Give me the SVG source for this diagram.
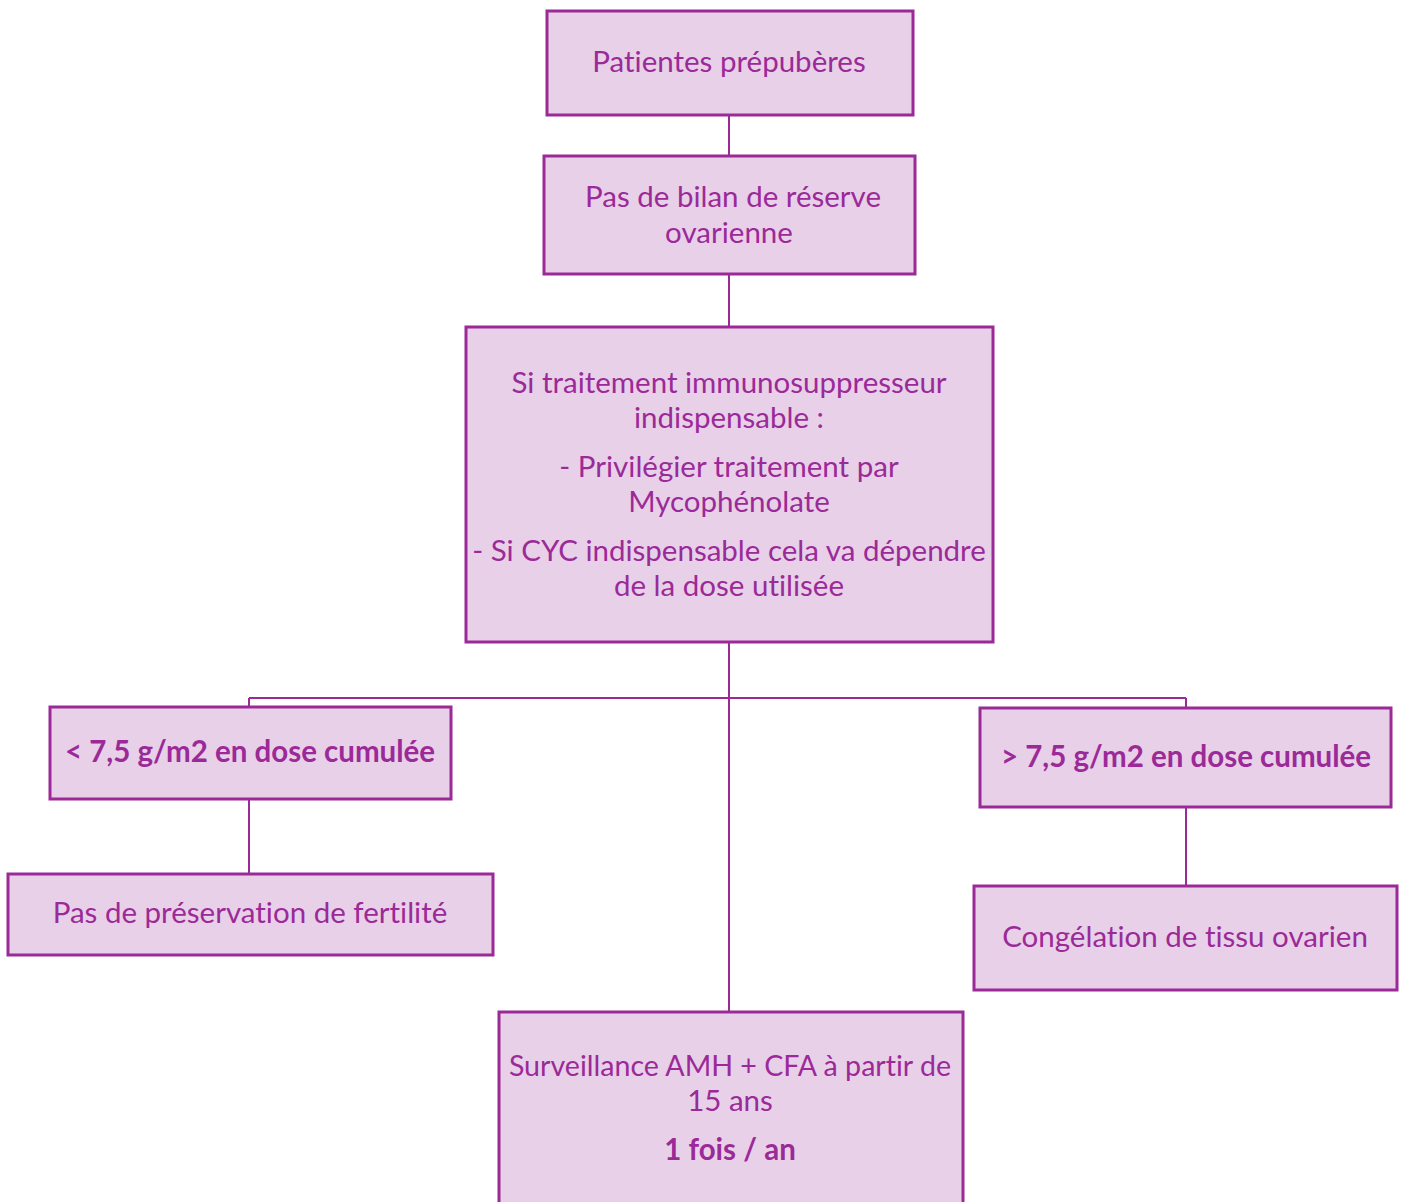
<svg xmlns="http://www.w3.org/2000/svg" width="1405" height="1202" viewBox="0 0 1405 1202">
<style>
.box{fill:#e8d0e8;stroke:#9b2a98;stroke-width:3}
.ln{fill:none;stroke:#9b2a98;stroke-width:2}
text{font-family:Lato,"Liberation Sans",sans-serif;font-size:29.5px;fill:#9b2a98;text-anchor:middle;font-variant-ligatures:none;font-feature-settings:"liga" 0}
.b{font-weight:bold}
</style>
<rect width="1405" height="1202" fill="#ffffff"/>
<g id="connectors">
<path class="ln" d="M729 115V155M729 274V327M729 642V1011M249 698H1186M249 698V706M1186 698V707M249 799V873M1186 807V885"/>
</g>
<g id="n1"><rect class="box" x="547" y="11" width="366" height="104"/><text x="729" y="72">Patientes prépubères</text></g>
<g id="n2"><rect class="box" x="544" y="156" width="371" height="118"/><text x="733" y="207">Pas de bilan de réserve</text><text x="729" y="243">ovarienne</text></g>
<g id="n3"><rect class="box" x="466" y="327" width="527" height="315"/>
<text x="729" y="393">Si traitement immunosuppresseur</text>
<text x="729" y="428">indispensable :</text>
<text x="729" y="477">- Privilégier traitement par</text>
<text x="729" y="512">Mycophénolate</text>
<text x="729" y="561">- Si CYC indispensable cela va dépendre</text>
<text x="729" y="596">de la dose utilisée</text></g>
<g id="n4"><rect class="box" x="50" y="707" width="401" height="92"/><text class="b" x="250" y="762">&lt; 7,5 g/m2 en dose cumulée</text></g>
<g id="n5"><rect class="box" x="980" y="708" width="411" height="99"/><text class="b" x="1186" y="767">&gt; 7,5 g/m2 en dose cumulée</text></g>
<g id="n6"><rect class="box" x="8" y="874" width="485" height="81"/><text x="250" y="923">Pas de préservation de fertilité</text></g>
<g id="n7"><rect class="box" x="974" y="886" width="423" height="104"/><text x="1185" y="947">Congélation de tissu ovarien</text></g>
<g id="n8"><rect class="box" x="499" y="1012" width="464" height="200"/>
<text x="730" y="1076" style="font-size:28.6px">Surveillance AMH + CFA à partir de</text>
<text x="730" y="1111">15 ans</text>
<text class="b" x="730" y="1160">1 fois / an</text></g>
</svg>
